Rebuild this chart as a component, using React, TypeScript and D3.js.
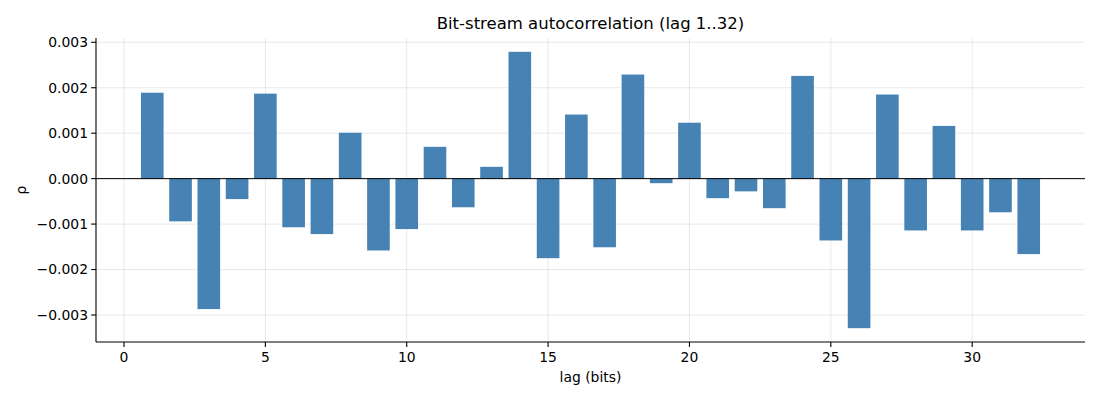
import React from 'react';
import * as d3 from 'd3';

// lag 1..32, autocorrelation
const lags = d3.range(1, 33);
const rho = [
  0.00189, -0.00094, -0.00287, -0.00045, 0.00187, -0.00107, -0.00122, 0.00101,
  -0.00158, -0.00111, 0.0007, -0.00063, 0.00026, 0.00279, -0.00175, 0.00141,
  -0.00151, 0.00229, -0.0001, 0.00123, -0.00043, -0.00028, -0.00065, 0.00226,
  -0.00136, -0.00329, 0.00185, -0.00114, 0.00116, -0.00114, -0.00074, -0.00166,
];
const xTicks = [0, 5, 10, 15, 20, 25, 30];
const yTicks = [-0.003, -0.002, -0.001, 0, 0.001, 0.002, 0.003];

const W = 1100;
const H = 400;
const margin = { top: 38, right: 15, bottom: 58, left: 96 };
const FONT = 'DejaVu Sans, sans-serif';

export default function App() {
  const iw = W - margin.left - margin.right;
  const ih = H - margin.top - margin.bottom;
  const barW = 0.8;

  const xLo = 1 - barW / 2;
  const xHi = 32 + barW / 2;
  const xPad = (xHi - xLo) * 0.05;
  const x = d3.scaleLinear().domain([xLo - xPad, xHi + xPad]).range([0, iw]);

  const yMin = d3.min(rho)!;
  const yMax = d3.max(rho)!;
  const yPad = (yMax - yMin) * 0.05;
  const y = d3.scaleLinear().domain([yMin - yPad, yMax + yPad]).range([ih, 0]);

  const fmtY = (v: number) => d3.format('.3f')(v).replace('-', '\u2212');

  return (
    <svg width={W} height={H} style={{ position: 'absolute', left: 0, top: 0 }} fontFamily={FONT}>
      <rect width={W} height={H} fill="#fff" />
      <text x={margin.left + iw / 2} y={29} textAnchor="middle" fontSize={16.5} fill="#000">
        Bit-stream autocorrelation (lag 1..32)
      </text>
      <g transform={`translate(${margin.left},${margin.top})`}>
        {/* grid */}
        {xTicks.map((t) => (
          <line key={'gx' + t} x1={x(t)} x2={x(t)} y1={0} y2={ih} stroke="#b0b0b0" strokeOpacity={0.35} strokeWidth={0.8} />
        ))}
        {yTicks.map((t) => (
          <line key={'gy' + t} x1={0} x2={iw} y1={y(t)} y2={y(t)} stroke="#b0b0b0" strokeOpacity={0.35} strokeWidth={0.8} />
        ))}
        {/* bars */}
        {rho.map((v, i) => (
          <rect
            key={i}
            x={x(lags[i] - barW / 2)}
            width={x(barW) - x(0)}
            y={y(Math.max(0, v))}
            height={Math.abs(y(v) - y(0))}
            fill="steelblue"
          />
        ))}
        {/* zero line */}
        <line x1={0} x2={iw} y1={y(0)} y2={y(0)} stroke="#000" strokeWidth={1} />
        {/* spines */}
        <line x1={0} x2={0} y1={0} y2={ih} stroke="#000" strokeWidth={1.1} />
        <line x1={0} x2={iw} y1={ih} y2={ih} stroke="#000" strokeWidth={1.1} />
        {/* x ticks */}
        {xTicks.map((t) => (
          <g key={'tx' + t} transform={`translate(${x(t)},${ih})`}>
            <line y2={4.9} stroke="#000" strokeWidth={1.1} />
            <text y={20} textAnchor="middle" fontSize={13.9} fill="#000">{t}</text>
          </g>
        ))}
        {/* y ticks */}
        {yTicks.map((t) => (
          <g key={'ty' + t} transform={`translate(0,${y(t)})`}>
            <line x2={-4.9} stroke="#000" strokeWidth={1.1} />
            <text x={-8} dy="0.35em" textAnchor="end" fontSize={13.9} fill="#000">{fmtY(t)}</text>
          </g>
        ))}
        <text x={iw / 2} y={ih + 40} textAnchor="middle" fontSize={13.9} fill="#000">lag (bits)</text>
        <text transform={`translate(${-70},${ih / 2}) rotate(-90)`} textAnchor="middle" fontSize={13.9} fill="#000">ρ</text>
      </g>
    </svg>
  );
}
